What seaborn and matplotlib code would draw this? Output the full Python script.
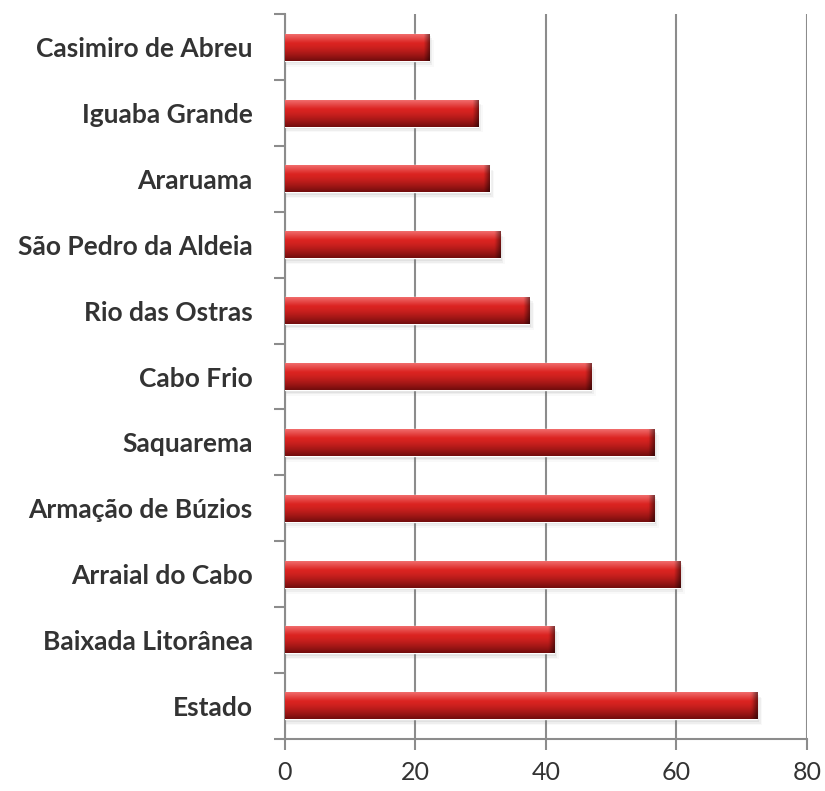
import numpy as np
import pandas as pd
import matplotlib
matplotlib.use("Agg")
import matplotlib.pyplot as plt
from matplotlib.patches import Rectangle
import seaborn as sns

# values
municipios = ["Casimiro de Abreu", "Iguaba Grande", "Araruama", "São Pedro da Aldeia",
              "Rio das Ostras", "Cabo Frio", "Saquarema", "Armação de Búzios",
              "Arraial do Cabo", "Baixada Litorânea", "Estado"]
valores = [22.1, 29.6, 31.4, 33.0, 37.5, 46.9, 56.6, 56.6, 60.6, 41.3, 72.4]
x_ticks = [0, 20, 40, 60, 80]

df = pd.DataFrame({"municipio": municipios, "valor": valores})

sns.set_style("white")
plt.rcParams["font.family"] = ["Lato", "DejaVu Sans"]

fig = plt.figure(figsize=(8.25, 7.91), dpi=100)
ax = fig.add_axes([0.345, 0.066, 0.633, 0.916])

sns.barplot(data=df, x="valor", y="municipio", orient="h", color="#c62020",
            width=0.41, ax=ax, zorder=3)

# cylinder-like shading: vertical colour profile + darker right end
top_c = np.array([0.95, 0.45, 0.45])
mid_c = np.array([0.86, 0.14, 0.13])
bot_c = np.array([0.45, 0.05, 0.05])
n_rows = 40
t = np.linspace(0, 1, n_rows)
profile = np.zeros((n_rows, 3))
for i, v in enumerate(t):
    if v < 0.35:
        profile[i] = top_c + (mid_c - top_c) * (v / 0.35)
    else:
        profile[i] = mid_c + (bot_c - mid_c) * ((v - 0.35) / 0.65) ** 1.4

for p in ax.patches:
    x0, y0, w, h = p.get_x(), p.get_y(), p.get_width(), p.get_height()
    # soft shadow
    for k, a in enumerate([0.10, 0.07, 0.04]):
        sh = Rectangle((x0, y0 + h * (0.10 + 0.06 * k)), w + 0.25 * (k + 1), h,
                       facecolor="#707070", edgecolor="none", alpha=a, zorder=2)
        ax.add_patch(sh)
    n_cols = 200
    cols = np.linspace(0, w, n_cols)
    shade = np.ones(n_cols)
    end = cols > w - 0.9
    shade[end] = 1 - 0.45 * ((cols[end] - (w - 0.9)) / 0.9)
    img = profile[:, None, :] * shade[None, :, None]
    im = ax.imshow(img, extent=[x0, x0 + w, y0 + h, y0], aspect="auto",
                   interpolation="bilinear", zorder=4)
    im.set_clip_path(p)

ax.set_xlim(0, 80)
ax.set_ylim(len(municipios) - 0.5, -0.5)
ax.set_xticks(x_ticks)
ax.set_xticklabels([str(v) for v in x_ticks])
ax.set_xlabel("")
ax.set_ylabel("")

ax.grid(axis="x", color="#8c8c8c", linewidth=1.5, zorder=0)
ax.grid(axis="y", visible=False)
ax.set_axisbelow(True)

for s in ["top", "right"]:
    ax.spines[s].set_visible(False)
for s in ["left", "bottom"]:
    ax.spines[s].set_color("#8c8c8c")
    ax.spines[s].set_linewidth(1.5)

# y ticks between categories
ax.set_yticks(np.arange(-0.5, len(municipios), 1.0), minor=True)
ax.tick_params(axis="y", which="major", left=True, length=0, pad=23,
               labelsize=19, labelcolor="#333333")
ax.tick_params(axis="y", which="minor", left=True, length=8, width=1.5,
               color="#8c8c8c", direction="out")
ax.tick_params(axis="x", bottom=True, length=8, width=1.5, color="#8c8c8c",
               direction="out", labelsize=18, labelcolor="#333333", pad=8)
for lab in ax.get_yticklabels():
    lab.set_fontweight("bold")

fig.savefig("out.png", dpi=100)
